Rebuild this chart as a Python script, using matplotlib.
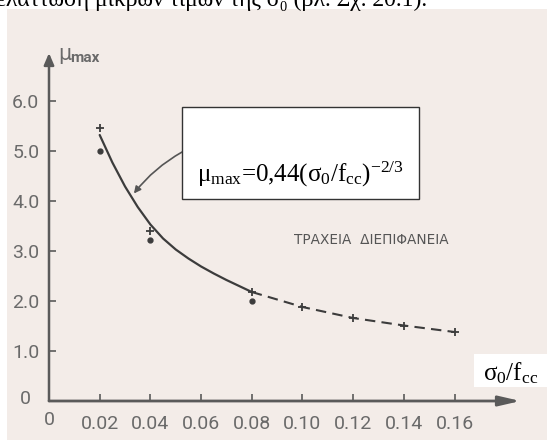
import matplotlib
matplotlib.use('Agg')
import matplotlib.pyplot as plt
from matplotlib.patches import Rectangle

# Τιμές διαβασμένες από το διάγραμμα
x_ticks = [0.02, 0.04, 0.06, 0.08, 0.10, 0.12, 0.14, 0.16]
x_tick_labels = ['0.02', '0.04', '0.06', '0.08', '0.10', '0.12', '0.14', '0.16']
y_ticks = [1.0, 2.0, 3.0, 4.0, 5.0, 6.0]
y_tick_labels = ['1.0', '2.0', '3.0', '4.0', '5.0', '6.0']

# καμπύλη (συνεχής και διακεκομμένη)
curve_x = [0.020, 0.025, 0.030, 0.035, 0.040, 0.045, 0.050, 0.055, 0.060, 0.065, 0.070, 0.075, 0.080]
curve_y = [5.32, 4.77, 4.29, 3.88, 3.53, 3.25, 3.03, 2.85, 2.69, 2.55, 2.42, 2.30, 2.18]
dash_x = [0.080, 0.10, 0.12, 0.14, 0.16]
dash_y = [2.18, 1.88, 1.66, 1.51, 1.38]

# πειραματικά σημεία
cross_x = [0.02, 0.04, 0.08, 0.10, 0.12, 0.14, 0.16]
cross_y = [5.46, 3.40, 2.18, 1.88, 1.66, 1.51, 1.38]
dot_x = [0.02, 0.04, 0.08]
dot_y = [5.00, 3.22, 2.00]

plt.rcParams['mathtext.fontset'] = 'custom'
plt.rcParams['mathtext.rm'] = 'Liberation Serif'
plt.rcParams['mathtext.it'] = 'Liberation Serif'
plt.rcParams['mathtext.bf'] = 'Liberation Serif:bold'

W, H = 547, 440
fig = plt.figure(figsize=(W / 100, H / 100), dpi=100)
fig.patch.set_facecolor('white')

# φόντο σαρωμένης σελίδας
fig.patches.append(Rectangle((7 / W, 0), 1, 1 - 9 / H, transform=fig.transFigure,
                             facecolor='#f3ece8', edgecolor='none', zorder=-5))

# κομμένη γραμμή κειμένου στην κορυφή
fig.text(-4 / W, 1 - 6 / H, 'ελάττωση μικρών τιμών της σ₀ (βλ. Σχ. 20.1).',
         fontsize=17, family='Liberation Serif', va='baseline', ha='left', color='black')

axis_col = '#5a5a5a'
label_col = '#6a6a6a'

ax = fig.add_axes([49 / W, 39 / H, 471.5 / W, 348 / H])
ax.set_facecolor('none')
ax.set_xlim(0, 0.186)
ax.set_ylim(0, 6.96)
for s in ax.spines.values():
    s.set_visible(False)

# άξονες με βέλη
ax.annotate('', xy=(1.0, 0), xytext=(0, 0), xycoords='axes fraction',
            arrowprops=dict(arrowstyle='-|>,head_length=1.3,head_width=0.3',
                            lw=2.0, color=axis_col, shrinkA=0, shrinkB=0))
ax.annotate('', xy=(0, 1.0), xytext=(0, 0), xycoords='axes fraction',
            arrowprops=dict(arrowstyle='-|>,head_length=0.7,head_width=0.3',
                            lw=1.8, color=axis_col, shrinkA=0, shrinkB=0))

ax.set_xticks(x_ticks)
ax.set_xticklabels(x_tick_labels)
ax.set_yticks(y_ticks)
ax.set_yticklabels(y_tick_labels)
ax.tick_params(direction='in', length=5, width=1.2, color=axis_col,
               labelcolor=label_col, labelsize=14)
ax.tick_params(axis='x', pad=10)
ax.tick_params(axis='y', pad=7)
for lab in ax.get_xticklabels() + ax.get_yticklabels():
    lab.set_family('Roboto')
# τα δύο μηδενικά στην αρχή των αξόνων
ax.text(0.0, -0.38, '0', ha='center', va='center', fontsize=14, color=label_col, family='Roboto')
ax.text(-0.0095, 0.05, '0', ha='center', va='center', fontsize=14, color=label_col, family='Roboto')

ax.text(0.0035, 6.93, 'μ', ha='left', va='center', fontsize=15, color=label_col, family='DejaVu Sans')
ax.text(0.0085, 6.85, 'max', ha='left', va='center', fontsize=11, color=label_col, family='Roboto',
        fontweight='bold')

line_col = '#3c3c3c'
ax.plot(curve_x, curve_y, color=line_col, lw=1.6, solid_capstyle='round')
ax.plot(dash_x, dash_y, color=line_col, lw=1.5, dashes=(5, 3))
ax.plot(cross_x, cross_y, '+', color=line_col, ms=6, mew=1.3, ls='none')
ax.plot(dot_x, dot_y, 'o', color=line_col, ms=3.5, ls='none')

ax.text(0.0965, 3.22, 'ΤΡΑΧΕΙΑ  ΔΙΕΠΙΦΑΝΕΙΑ', fontsize=9.8, color='#555555', family='DejaVu Sans',
        ha='left', va='center')

# πλαίσιο τύπου
fig.patches.append(Rectangle((182 / W, 1 - 199 / H), 237 / W, 92 / H, transform=fig.transFigure,
                             facecolor='white', edgecolor='#333333', lw=1.0, zorder=3))
fig.text(197 / W, 1 - 182 / H, r'$\mu_{max}$=0,44($\sigma_0$/f$_{cc}$)$^{-2/3}$',
         fontsize=18, family='Liberation Serif', ha='left', va='baseline', zorder=4)

# βέλος προς την καμπύλη
ax.annotate('', xy=(0.0335, 4.15), xytext=(0.0525, 4.98),
            arrowprops=dict(arrowstyle='-|>,head_length=0.4,head_width=0.2', color='#555555', lw=1.2,
                            connectionstyle='arc3,rad=0.1', shrinkA=0, shrinkB=0))

# ετικέτα άξονα x
fig.patches.append(Rectangle((474 / W, 1 - 387 / H), 73 / W, 33 / H, transform=fig.transFigure,
                             facecolor='white', edgecolor='none', zorder=3))
fig.text(483 / W, 1 - 380 / H, r'$\sigma_0$/f$_{cc}$', fontsize=18, family='Liberation Serif',
         ha='left', va='baseline', zorder=4)

fig.savefig('out.png', dpi=100)
